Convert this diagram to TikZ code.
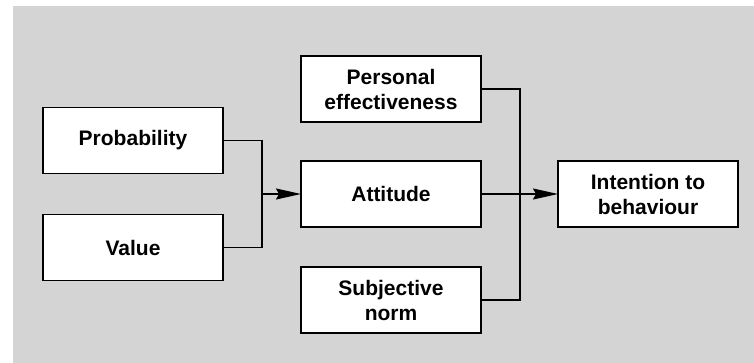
\documentclass[tikz,border=0pt]{standalone}
\usepackage{fontspec}
\setmainfont{Liberation Sans}
\usetikzlibrary{positioning,arrows.meta}
\tikzset{
  factor/.style={draw, fill=white, line width=1.6pt, minimum width=180pt,
    minimum height=66pt, inner sep=0pt, outer sep=0pt, align=center,
    font=\fontsize{21}{25}\selectfont\bfseries},
  link/.style={line width=1.6pt},
  feed/.style={link, -{Stealth[length=25pt,width=11pt,inset=3pt]}}
}
\begin{document}
\begin{tikzpicture}[x=1pt,y=1pt]
  \useasboundingbox (0,0) rectangle (754,-363);
  \fill[black!17] (13,-6) rectangle (754,-363);

  \node[factor] (att) at (391,-194) {Attitude};
  \node[factor] (pers) [above=39pt of att] {Personal\\effectiveness};
  \node[factor] (subj) [below=40pt of att] {Subjective\\norm};
  \node[factor] (prob) [left=78pt of att, yshift=53.5pt] {Probability};
  \node[factor] (val) [below=41pt of prob] {Value};
  \node[factor] (int) [right=77pt of att] {Intention to\\behaviour};

  \coordinate[left=39pt of att.west] (j1);
  \coordinate[right=39pt of att.east] (j2);

  \draw[link] (prob.east) -| (j1) |- (val.east);
  \draw[feed] (j1) -- (att.west);
  \draw[link] (pers.east) -| (j2) |- (subj.east);
  \draw[feed] (att.east) -- (int.west);
\end{tikzpicture}
\end{document}
